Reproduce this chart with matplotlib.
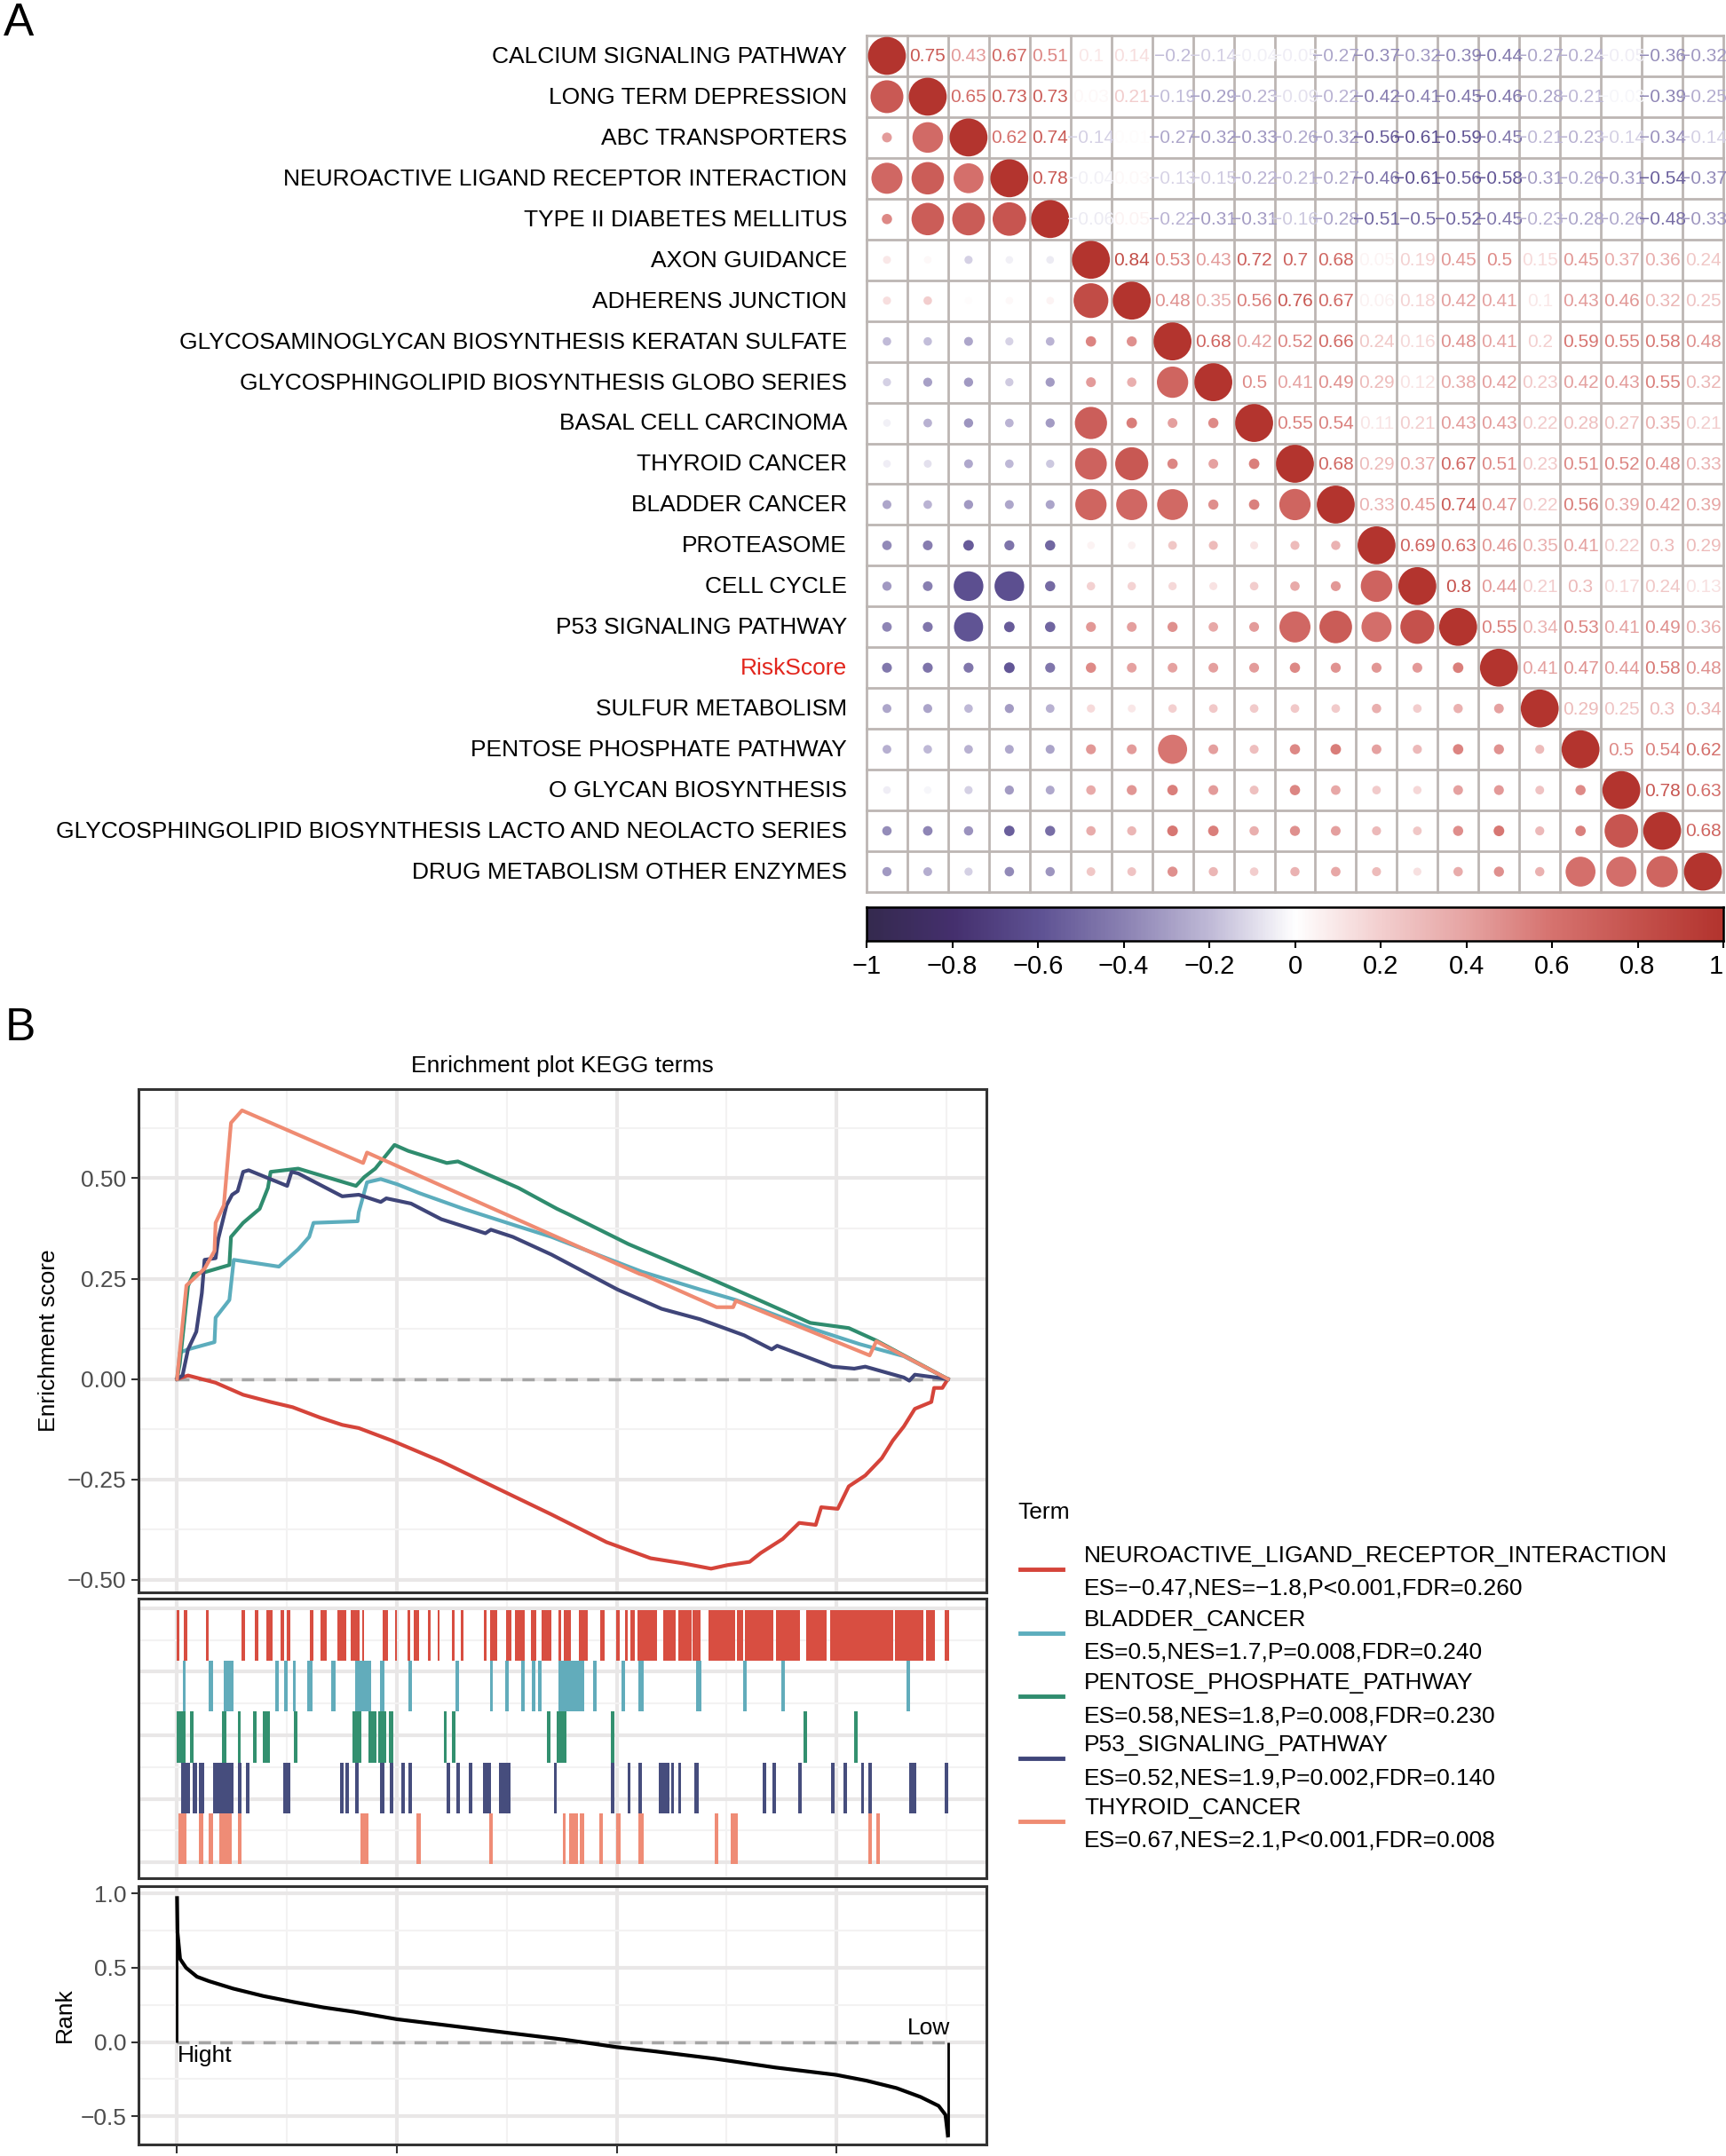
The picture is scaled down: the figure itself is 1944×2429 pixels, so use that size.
import matplotlib
matplotlib.use("Agg")
import matplotlib.pyplot as plt
import numpy as np
from matplotlib.colors import LinearSegmentedColormap, Normalize
from matplotlib.patches import Circle
from matplotlib.lines import Line2D

plt.rcParams["font.family"] = ["Liberation Sans", "DejaVu Sans"]

W, H = 1944, 2429

# ---------------- panel A data ----------------
row_labels = [
    "CALCIUM SIGNALING PATHWAY",
    "LONG TERM DEPRESSION",
    "ABC TRANSPORTERS",
    "NEUROACTIVE LIGAND RECEPTOR INTERACTION",
    "TYPE II DIABETES MELLITUS",
    "AXON GUIDANCE",
    "ADHERENS JUNCTION",
    "GLYCOSAMINOGLYCAN BIOSYNTHESIS KERATAN SULFATE",
    "GLYCOSPHINGOLIPID BIOSYNTHESIS GLOBO SERIES",
    "BASAL CELL CARCINOMA",
    "THYROID CANCER",
    "BLADDER CANCER",
    "PROTEASOME",
    "CELL CYCLE",
    "P53 SIGNALING PATHWAY",
    "RiskScore",
    "SULFUR METABOLISM",
    "PENTOSE PHOSPHATE PATHWAY",
    "O GLYCAN BIOSYNTHESIS",
    "GLYCOSPHINGOLIPID BIOSYNTHESIS LACTO AND NEOLACTO SERIES",
    "DRUG METABOLISM OTHER ENZYMES",
]

# upper triangle, row i holds columns i+1 .. 20
upper_vals = [
    [0.75, 0.43, 0.67, 0.51, 0.1, 0.14, -0.2, -0.14, -0.04, -0.05, -0.27, -0.37, -0.32, -0.39, -0.44, -0.27, -0.24, -0.05, -0.36, -0.32],
    [0.65, 0.73, 0.73, 0.03, 0.21, -0.19, -0.29, -0.23, -0.09, -0.22, -0.42, -0.41, -0.45, -0.46, -0.28, -0.21, -0.03, -0.39, -0.25],
    [0.62, 0.74, -0.14, 0.01, -0.27, -0.32, -0.33, -0.26, -0.32, -0.56, -0.61, -0.59, -0.45, -0.21, -0.23, -0.14, -0.34, -0.14],
    [0.78, -0.04, 0.03, -0.13, -0.15, -0.22, -0.21, -0.27, -0.46, -0.61, -0.56, -0.58, -0.31, -0.26, -0.31, -0.54, -0.37],
    [-0.06, 0.05, -0.22, -0.31, -0.31, -0.16, -0.28, -0.51, -0.5, -0.52, -0.45, -0.23, -0.28, -0.26, -0.48, -0.33],
    [0.84, 0.53, 0.43, 0.72, 0.7, 0.68, 0.05, 0.19, 0.45, 0.5, 0.15, 0.45, 0.37, 0.36, 0.24],
    [0.48, 0.35, 0.56, 0.76, 0.67, 0.06, 0.18, 0.42, 0.41, 0.1, 0.43, 0.46, 0.32, 0.25],
    [0.68, 0.42, 0.52, 0.66, 0.24, 0.16, 0.48, 0.41, 0.2, 0.59, 0.55, 0.58, 0.48],
    [0.5, 0.41, 0.49, 0.29, 0.12, 0.38, 0.42, 0.23, 0.42, 0.43, 0.55, 0.32],
    [0.55, 0.54, 0.11, 0.21, 0.43, 0.43, 0.22, 0.28, 0.27, 0.35, 0.21],
    [0.68, 0.29, 0.37, 0.67, 0.51, 0.23, 0.51, 0.52, 0.48, 0.33],
    [0.33, 0.45, 0.74, 0.47, 0.22, 0.56, 0.39, 0.42, 0.39],
    [0.69, 0.63, 0.46, 0.35, 0.41, 0.22, 0.3, 0.29],
    [0.8, 0.44, 0.21, 0.3, 0.17, 0.24, 0.13],
    [0.55, 0.34, 0.53, 0.41, 0.49, 0.36],
    [0.41, 0.47, 0.44, 0.58, 0.48],
    [0.29, 0.25, 0.3, 0.34],
    [0.5, 0.54, 0.62],
    [0.78, 0.63],
    [0.68],
]

cbar_ticks = [-1, -0.8, -0.6, -0.4, -0.2, 0, 0.2, 0.4, 0.6, 0.8, 1]

# ---------------- panel B data ----------------
terms = ["NEUROACTIVE_LIGAND_RECEPTOR_INTERACTION", "BLADDER_CANCER",
         "PENTOSE_PHOSPHATE_PATHWAY", "P53_SIGNALING_PATHWAY", "THYROID_CANCER"]
term_stats = ["ES=\u22120.47,NES=\u22121.8,P<0.001,FDR=0.260",
              "ES=0.5,NES=1.7,P=0.008,FDR=0.240",
              "ES=0.58,NES=1.8,P=0.008,FDR=0.230",
              "ES=0.52,NES=1.9,P=0.002,FDR=0.140",
              "ES=0.67,NES=2.1,P<0.001,FDR=0.008"]
term_colors = ["#d5443a", "#5cadbd", "#2f8c6e", "#3f4579", "#ef8b72"]
hit_colors = ["#d84e41", "#62acbb", "#33906f", "#464d7d", "#ef8c76"]

neuro_x = [0, 250, 877, 1503, 2129, 2630, 3257, 3758, 4133, 4885, 6012, 7265, 8517, 9770, 10772, 11523,
           12149, 12525, 13026, 13277, 13778, 14153, 14529, 14654, 15030, 15281, 15656, 16032, 16283,
           16533, 16784, 17159, 17222, 17410, 17535]
neuro_y = [0, 0.009, -0.009, -0.039, -0.057, -0.070, -0.096, -0.114, -0.122, -0.153, -0.205, -0.271,
           -0.337, -0.406, -0.446, -0.459, -0.472, -0.463, -0.455, -0.433, -0.398, -0.358, -0.363, -0.319,
           -0.323, -0.267, -0.240, -0.197, -0.153, -0.118, -0.074, -0.057, -0.022, -0.022, 0]

bladder_x = [0, 63, 250, 852, 877, 1190, 1290, 2317, 2756, 3006, 3104, 4108, 4133, 4321, 4634, 5010, 5511,
             6513, 7766, 8517, 10271, 10584, 11899, 12713, 14404, 15531, 16533, 17535]
bladder_y = [0, 0.066, 0.074, 0.092, 0.153, 0.197, 0.297, 0.280, 0.323, 0.354, 0.389, 0.393, 0.415, 0.490,
             0.498, 0.485, 0.463, 0.424, 0.380, 0.354, 0.280, 0.267, 0.223, 0.197, 0.127, 0.087, 0.057, 0]

pentose_x = [0, 63, 250, 376, 626, 1190, 1227, 1503, 1879, 2067, 2129, 2756, 4071, 4259, 4509, 4947, 5261,
             6137, 6388, 7766, 8642, 8893, 10271, 12149, 13151, 14404, 15281, 15907, 17535]
pentose_y = [0, 0.039, 0.232, 0.262, 0.266, 0.284, 0.354, 0.389, 0.424, 0.476, 0.516, 0.524, 0.481, 0.503,
             0.524, 0.583, 0.568, 0.538, 0.542, 0.476, 0.424, 0.411, 0.336, 0.249, 0.201, 0.140, 0.127, 0.096, 0]

p53_x = [0, 125, 250, 438, 564, 626, 877, 939, 1127, 1253, 1378, 1503, 1628, 2505, 2605, 2756, 3758, 4133,
         4634, 4760, 5323, 6012, 7014, 7139, 7640, 8517, 10020, 11022, 11899, 12901, 13527, 13652, 14905,
         15406, 15656, 16533, 16658, 16784, 17535]
p53_y = [0, 0.009, 0.074, 0.118, 0.214, 0.297, 0.301, 0.350, 0.433, 0.459, 0.468, 0.516, 0.520, 0.481, 0.516,
         0.512, 0.455, 0.459, 0.441, 0.450, 0.437, 0.398, 0.363, 0.372, 0.354, 0.310, 0.223, 0.175, 0.149,
         0.109, 0.074, 0.083, 0.031, 0.026, 0.031, 0.004, -0.004, 0.011, 0]

thyroid_x = [0, 213, 626, 852, 877, 1065, 1227, 1478, 4233, 4321, 10521, 10646, 12275, 12650, 12713, 15756,
             15907, 17535]
thyroid_y = [0, 0.233, 0.275, 0.319, 0.389, 0.433, 0.638, 0.669, 0.538, 0.564, 0.262, 0.258, 0.179, 0.179,
             0.195, 0.059, 0.094, 0]

# gene ranges where each term has hits (start, end)
neuro_hits = [(0, 50), (150, 225), (651, 726), (1465, 1541), (1779, 1854), (2029, 2179), (2355, 2430),
              (2505, 2580), (3031, 3106), (3257, 3407), (3657, 3858), (3945, 4146), (4208, 4259),
              (4672, 4797), (4960, 5010), (5236, 5311), (5386, 5511), (5711, 5762), (5924, 5974),
              (6262, 6313), (6463, 6513), (6989, 7039), (7114, 7290), (7490, 7615), (7678, 7916),
              (8054, 8179), (8292, 8517), (8680, 8742), (8805, 8955), (9143, 9344), (9619, 9719),
              (9995, 10070), (10183, 10246), (10308, 10421), (10471, 10922), (11060, 11335),
              (11398, 11699), (11723, 11899), (12087, 12688), (12738, 12876), (12926, 13565),
              (13627, 14178), (14304, 14780), (14855, 16283), (16333, 16984), (17034, 17234), (17472, 17560)]
bladder_hits = [(125, 200), (726, 827), (1052, 1278), (2229, 2305), (2442, 2518), (2630, 2705), (2956, 3081),
                (3507, 3607), (4046, 4409), (4609, 4709), (5261, 5336), (6338, 6413), (7114, 7189),
                (7465, 7540), (7828, 7903), (8079, 8154), (8216, 8292), (8680, 9269), (9469, 9544),
                (10120, 10195), (10496, 10621), (11799, 11924), (12876, 12951), (13752, 13828), (16596, 16671)]
pentose_hits = [(0, 188), (301, 376), (1027, 1127), (1378, 1453), (1728, 1816), (1954, 2104), (2655, 2730),
                (3983, 4196), (4359, 4534), (4584, 4760), (4810, 4910), (6075, 6137), (6262, 6338),
                (8417, 8492), (8642, 8868), (9870, 9945), (14254, 14329), (15406, 15481)]
p53_hits = [(100, 301), (351, 463), (501, 626), (814, 1278), (1378, 1465), (1566, 1653), (2417, 2580),
            (3707, 3783), (3833, 3908), (4046, 4133), (4609, 4709), (4835, 4910), (5110, 5185), (5261, 5336),
            (6137, 6212), (6363, 6438), (6638, 6713), (6951, 7139), (7327, 7590), (8567, 8642), (9870, 9945),
            (10246, 10321), (10496, 10571), (10959, 11210), (11235, 11298), (11398, 11473), (11774, 11874),
            (13327, 13402), (13552, 13627), (14128, 14203), (14880, 14955), (15156, 15231), (15556, 15631),
            (15731, 15806), (16658, 16809), (17460, 17535)]
thyroid_hits = [(25, 213), (501, 589), (726, 827), (964, 1253), (1378, 1465), (4171, 4346), (5448, 5536),
                (7102, 7189), (8768, 8843), (8918, 9118), (9168, 9269), (9607, 9682), (9995, 10083),
                (10496, 10621), (12237, 12312), (12588, 12751), (15731, 15806), (15907, 15982)]

rank_x = [0, 10, 69, 206, 453, 727, 1276, 1962, 2647, 3333, 4019, 4993, 6077, 7449, 8820, 10000, 10878,
          12250, 13621, 14993, 15679, 16365, 16914, 17325, 17480, 17535]
rank_y = [0.97, 0.74, 0.56, 0.50, 0.44, 0.41, 0.36, 0.31, 0.27, 0.233, 0.204, 0.154, 0.115, 0.065, 0.016,
          -0.034, -0.063, -0.113, -0.172, -0.221, -0.26, -0.31, -0.37, -0.43, -0.49, -0.63]

es_curves = [(neuro_x, neuro_y), (bladder_x, bladder_y), (pentose_x, pentose_y), (p53_x, p53_y),
             (thyroid_x, thyroid_y)]
hit_sets = [neuro_hits, bladder_hits, pentose_hits, p53_hits, thyroid_hits]
n_genes = 17535

FS = 19  # general text size in panel B


def rect(x0, y0, x1, y1):
    """pixel box (top-left origin) -> figure fraction rect"""
    return [x0 / W, 1 - y1 / H, (x1 - x0) / W, (y1 - y0) / H]


def minus(s):
    return s.replace("-", "\u2212")


fig = plt.figure(figsize=(W / 100, H / 100), dpi=100)

# ---------------- A: correlation matrix ----------------
cmap = LinearSegmentedColormap.from_list("corr", [
    (0.0, "#352a4f"), (0.1, "#45306e"), (0.2, "#5e5293"), (0.3, "#8b82b3"), (0.4, "#c0bad7"),
    (0.5, "#ffffff"), (0.6, "#f3cfcf"), (0.7, "#e6a4a3"), (0.8, "#d6736f"), (0.9, "#c5524d"),
    (1.0, "#b3342e")])
norm = Normalize(-1, 1)

n = len(row_labels)
corr = np.eye(n)
for i, vals in enumerate(upper_vals):
    for k, v in enumerate(vals):
        corr[i, i + 1 + k] = v
        corr[i + 1 + k, i] = v

ax = fig.add_axes(rect(976, 40, 1941, 1005))
ax.set_xlim(0, n)
ax.set_ylim(n, 0)
ax.axis("off")

for i in range(n):
    for j in range(n):
        v = corr[i, j]
        c = cmap(norm(v))
        if j > i:
            ax.text(j + 0.5, i + 0.52, minus(f"{round(v, 2):g}"), ha="center", va="center",
                    fontsize=15, color=c)
        else:
            a = abs(v)
            r = 0.465 * np.sqrt(a) if a >= 0.585 else 0.09 + 0.07 * a
            ax.add_patch(Circle((j + 0.5, i + 0.5), r, facecolor=c, edgecolor="none", zorder=3))

for k in range(n + 1):
    ax.plot([k, k], [0, n], color="#bcb6b3", lw=2, zorder=2, clip_on=False)
    ax.plot([0, n], [k, k], color="#bcb6b3", lw=2, zorder=2, clip_on=False)

for i, lab in enumerate(row_labels):
    ax.text(-0.48, i + 0.52, lab, ha="right", va="center", fontsize=19,
            color="#e2261d" if lab == "RiskScore" else "black")

# colour bar
cax = fig.add_axes(rect(976, 1022, 1941, 1060))
cax.imshow(np.linspace(-1, 1, 600)[None, :], extent=(-1, 1, 0, 1), aspect="auto", cmap=cmap, norm=norm)
cax.set_xlim(-1, 1)
cax.set_yticks([])
cax.set_xticks(cbar_ticks)
cax.set_xticklabels([minus(f"{t:g}") for t in cbar_ticks], fontsize=21)
cax.tick_params(axis="x", length=6, width=1.5, pad=5)
cax.get_xticklabels()[-1].set_horizontalalignment("right")
for s in cax.spines.values():
    s.set_linewidth(1.8)

# ---------------- B: GSEA ----------------
xlim = (-877, 18412)
xmaj = [0, 5000, 10000, 15000]
xmin_ = [2500, 7500, 12500, 17500]


def style_panel(a):
    a.set_xlim(*xlim)
    a.set_xticks(xmaj)
    a.set_xticks(xmin_, minor=True)
    a.grid(which="major", color="#e9e7e7", lw=3)
    a.grid(which="minor", color="#f3f2f2", lw=1.5)
    a.set_axisbelow(True)
    for s in a.spines.values():
        s.set_linewidth(2.2)
        s.set_color("#333333")
    a.tick_params(axis="x", which="both", length=0, labelbottom=False)
    a.tick_params(axis="y", which="minor", length=0)
    a.tick_params(axis="y", which="major", length=6, width=1.5, color="#333333",
                  labelsize=FS, labelcolor="#4d4d4d", pad=4)


# enrichment score panel
ax1 = fig.add_axes(rect(156, 1227, 1111, 1794))
style_panel(ax1)
ax1.set_ylim(-0.531, 0.722)
ax1.set_yticks([-0.5, -0.25, 0, 0.25, 0.5])
ax1.set_yticks([-0.375, -0.125, 0.125, 0.375, 0.625], minor=True)
ax1.set_yticklabels([minus(f"{t:.2f}") for t in [-0.5, -0.25, 0, 0.25, 0.5]])
ax1.hlines(0, 0, n_genes, colors="#a5a5a5", linestyles=(0, (4, 3)), lw=2.5, zorder=1)
for (xs, ys), col in zip(es_curves, term_colors):
    ax1.plot(xs, ys, color=col, lw=3, zorder=3)
ax1.set_ylabel("Enrichment score", fontsize=FS, labelpad=6)
ax1.set_title("Enrichment plot KEGG terms", fontsize=FS, pad=14)

# hits panel
ax2 = fig.add_axes(rect(156, 1801, 1111, 2116))
style_panel(ax2)
ax2.set_ylim(-0.25, 4.15)
ax2.set_yticks([0, 1, 2, 3, 4])
ax2.set_yticks([0.5, 1.5, 2.5, 3.5], minor=True)
ax2.tick_params(axis="y", which="both", length=0, labelleft=False)
for k, (spans, col) in enumerate(zip(hit_sets, hit_colors)):
    y0 = 3.17 - 0.8 * k
    ax2.broken_barh([(s, e - s) for s, e in spans], (y0, 0.8), facecolors=col, edgecolor="none", zorder=3)

# rank panel
ax3 = fig.add_axes(rect(156, 2125, 1111, 2416))
style_panel(ax3)
ax3.set_ylim(-0.69, 1.05)
ax3.set_yticks([-0.5, 0, 0.5, 1.0])
ax3.set_yticks([-0.25, 0.25, 0.75], minor=True)
ax3.set_yticklabels([minus(f"{t:.1f}") for t in [-0.5, 0, 0.5, 1.0]])
ax3.tick_params(axis="x", which="major", length=7, width=1.5, color="#333333")
ax3.hlines(0, 0, n_genes, colors="#a5a5a5", linestyles=(0, (4, 3)), lw=2.5, zorder=1)
ax3.plot(rank_x, rank_y, color="black", lw=3, zorder=3)
ax3.vlines(0, 0, rank_y[0], colors="black", lw=2, zorder=3)
ax3.vlines(n_genes, rank_y[-1], 0, colors="black", lw=2, zorder=3)
ax3.text(0, -0.02, "Hight", ha="left", va="top", fontsize=FS)
ax3.text(n_genes + 60, 0.02, "Low", ha="right", va="bottom", fontsize=FS)
ax3.set_ylabel("Rank", fontsize=FS, labelpad=4)

# ---------------- overlay: panel letters, legend ----------------
ov = fig.add_axes([0, 0, 1, 1], zorder=10)
ov.set_xlim(0, W)
ov.set_ylim(H, 0)
ov.axis("off")
ov.text(4, 40, "A", fontsize=37, ha="left", va="baseline")
ov.text(6, 1172, "B", fontsize=37, ha="left", va="baseline")

ov.text(1146, 1704, "Term", fontsize=FS, ha="left", va="center")
name_y = [1753, 1825, 1896, 1966, 2037]
for k in range(len(terms)):
    y = name_y[k]
    ov.add_line(Line2D([1149, 1197], [y + 15, y + 15], color=term_colors[k], lw=3.5))
    ov.text(1221, y, terms[k], fontsize=FS, ha="left", va="center")
    ov.text(1221, y + 37, term_stats[k], fontsize=FS, ha="left", va="center")

fig.savefig("out.png", dpi=100, facecolor="white")
